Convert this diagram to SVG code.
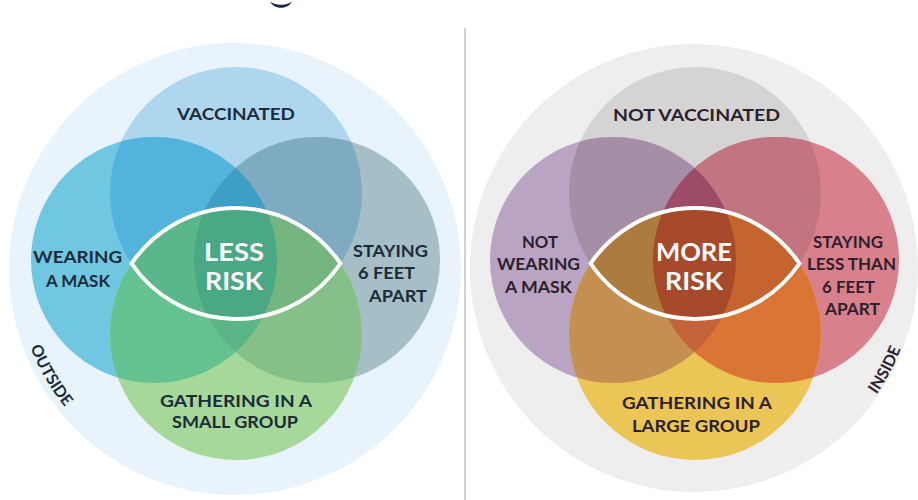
<svg xmlns="http://www.w3.org/2000/svg" xmlns:xlink="http://www.w3.org/1999/xlink" width="918" height="500" viewBox="0 0 918 500">
<style>
.lbl{font-family:Lato,"Open Sans","Liberation Sans",sans-serif;font-weight:700;font-size:17.5px;text-anchor:middle}
.dl{fill:#1c2b3a}
.dr{fill:#2c1f2c}
.risk{fill:#ffffff;font-size:24px}
.eye{fill:none;stroke:#ffffff;stroke-width:4}
.arc{font-size:16px}
</style>
<defs>
<circle id="T" cx="236" cy="193" r="126"/>
<circle id="L" cx="154" cy="260" r="123"/>
<circle id="R" cx="317" cy="260" r="123"/>
<circle id="B" cx="236" cy="334" r="126"/>
<clipPath id="cT"><circle cx="236" cy="193" r="126"/></clipPath>
<clipPath id="cL"><circle cx="154" cy="260" r="123"/></clipPath>
<clipPath id="cR"><circle cx="317" cy="260" r="123"/></clipPath>
<clipPath id="cB"><circle cx="236" cy="334" r="126"/></clipPath>
<path id="arcOut" d="M19.3,307 A219,219 0 0,0 94.2,436.8"/>
<path id="arcIn" d="M842.5,433 A222,222 0 0,0 913.8,298.9"/>
</defs>
<rect width="918" height="500" fill="#ffffff"/>
<path id="logo-fragment" d="M270,1 C273,10 289,10 292,1 C288,6 274,6 270,1 Z" fill="#1b2547"/>
<line id="divider" x1="465" y1="28" x2="465" y2="500" stroke="#d2d2d2" stroke-width="2"/>

<g id="left-regions">
<circle cx="235" cy="269" r="226" fill="#e8f3fb"/>
<use href="#T" fill="#aed6ef"/>
<use href="#L" fill="#6fc7e1"/>
<use href="#R" fill="#a6bfc6"/>
<use href="#B" fill="#a6d89a"/>
<use href="#L" fill="#52b4dd" clip-path="url(#cT)"/>
<use href="#R" fill="#7eaac2" clip-path="url(#cT)"/>
<use href="#L" fill="#64c190" clip-path="url(#cB)"/>
<use href="#R" fill="#84c088" clip-path="url(#cB)"/>
<use href="#B" fill="#5fb588" clip-path="url(#cT)"/>
<g clip-path="url(#cT)"><use href="#R" fill="#3e9fc6" clip-path="url(#cL)"/></g>
<g clip-path="url(#cB)"><use href="#R" fill="#5bb589" clip-path="url(#cL)"/></g>
<g clip-path="url(#cT)"><use href="#L" fill="#5ab68b" clip-path="url(#cB)"/></g>
<g clip-path="url(#cT)"><use href="#R" fill="#74b580" clip-path="url(#cB)"/></g>
<g clip-path="url(#cT)"><g clip-path="url(#cL)"><use href="#R" fill="#4aa885" clip-path="url(#cB)"/></g></g>
<path class="eye" d="M131.6,263.5 A126,126 0 0,1 340.4,263.5 A126,126 0 0,1 131.6,263.5 Z"/>
</g>

<g id="right-regions" transform="translate(459,0)">
<circle cx="235" cy="268" r="224" fill="#eeeeef"/>
<use href="#T" fill="#d5d3d4"/>
<use href="#L" fill="#b9a4c4"/>
<use href="#R" fill="#d8808c"/>
<use href="#B" fill="#ecc557"/>
<use href="#L" fill="#a68fa6" clip-path="url(#cT)"/>
<use href="#R" fill="#c27480" clip-path="url(#cT)"/>
<use href="#L" fill="#c48f50" clip-path="url(#cB)"/>
<use href="#R" fill="#da7535" clip-path="url(#cB)"/>
<use href="#B" fill="#b86a3a" clip-path="url(#cT)"/>
<g clip-path="url(#cT)"><use href="#R" fill="#9c4c68" clip-path="url(#cL)"/></g>
<g clip-path="url(#cB)"><use href="#R" fill="#c2633a" clip-path="url(#cL)"/></g>
<g clip-path="url(#cT)"><use href="#L" fill="#ad7b3e" clip-path="url(#cB)"/></g>
<g clip-path="url(#cT)"><use href="#R" fill="#c5642e" clip-path="url(#cB)"/></g>
<g clip-path="url(#cT)"><g clip-path="url(#cL)"><use href="#R" fill="#a64a2b" clip-path="url(#cB)"/></g></g>
<path class="eye" d="M131.6,263.5 A126,126 0 0,1 340.4,263.5 A126,126 0 0,1 131.6,263.5 Z"/>
</g>

<g id="vaccinated"><text class="lbl dl" x="236" y="120" textLength="118" lengthAdjust="spacingAndGlyphs">VACCINATED</text></g>
<g id="wearing-mask"><text class="lbl dl" x="77.5" y="263" textLength="89" lengthAdjust="spacingAndGlyphs">WEARING</text><text class="lbl dl" x="78" y="287" textLength="64" lengthAdjust="spacingAndGlyphs">A MASK</text></g>
<g id="staying-6-feet"><text class="lbl dl" x="390.5" y="257" textLength="75" lengthAdjust="spacingAndGlyphs">STAYING</text><text class="lbl dl" x="386.5" y="279" textLength="57" lengthAdjust="spacingAndGlyphs">6 FEET</text><text class="lbl dl" x="398" y="302" textLength="58" lengthAdjust="spacingAndGlyphs">APART</text></g>
<g id="small-group"><text class="lbl dl" x="236" y="407" textLength="152" lengthAdjust="spacingAndGlyphs">GATHERING IN A</text><text class="lbl dl" x="235" y="428" textLength="126" lengthAdjust="spacingAndGlyphs">SMALL GROUP</text></g>
<g id="less-risk"><text class="lbl risk" x="234" y="261" textLength="60" lengthAdjust="spacingAndGlyphs">LESS</text><text class="lbl risk" x="234" y="290" textLength="58" lengthAdjust="spacingAndGlyphs">RISK</text></g>
<g id="outside"><text class="lbl dl arc"><textPath href="#arcOut" startOffset="50%">OUTSIDE</textPath></text></g>

<g id="not-vaccinated"><text class="lbl dr" x="696.5" y="121" textLength="167" lengthAdjust="spacingAndGlyphs">NOT VACCINATED</text></g>
<g id="not-wearing-mask"><text class="lbl dr" x="540" y="248" textLength="36" lengthAdjust="spacingAndGlyphs">NOT</text><text class="lbl dr" x="538.5" y="270" textLength="83" lengthAdjust="spacingAndGlyphs">WEARING</text><text class="lbl dr" x="538.5" y="293" textLength="67" lengthAdjust="spacingAndGlyphs">A MASK</text></g>
<g id="staying-less-6-feet"><text class="lbl dr" x="848" y="248" textLength="70" lengthAdjust="spacingAndGlyphs">STAYING</text><text class="lbl dr" x="851.5" y="270" textLength="89" lengthAdjust="spacingAndGlyphs">LESS THAN</text><text class="lbl dr" x="848.5" y="293" textLength="53" lengthAdjust="spacingAndGlyphs">6 FEET</text><text class="lbl dr" x="852.5" y="315" textLength="55" lengthAdjust="spacingAndGlyphs">APART</text></g>
<g id="large-group"><text class="lbl dr" x="697" y="409" textLength="150" lengthAdjust="spacingAndGlyphs">GATHERING IN A</text><text class="lbl dr" x="696" y="432" textLength="128" lengthAdjust="spacingAndGlyphs">LARGE GROUP</text></g>
<g id="more-risk"><text class="lbl risk" x="694" y="261" textLength="76" lengthAdjust="spacingAndGlyphs">MORE</text><text class="lbl risk" x="694" y="290" textLength="58" lengthAdjust="spacingAndGlyphs">RISK</text></g>
<g id="inside"><text class="lbl dr arc"><textPath href="#arcIn" startOffset="50%">INSIDE</textPath></text></g>
</svg>
